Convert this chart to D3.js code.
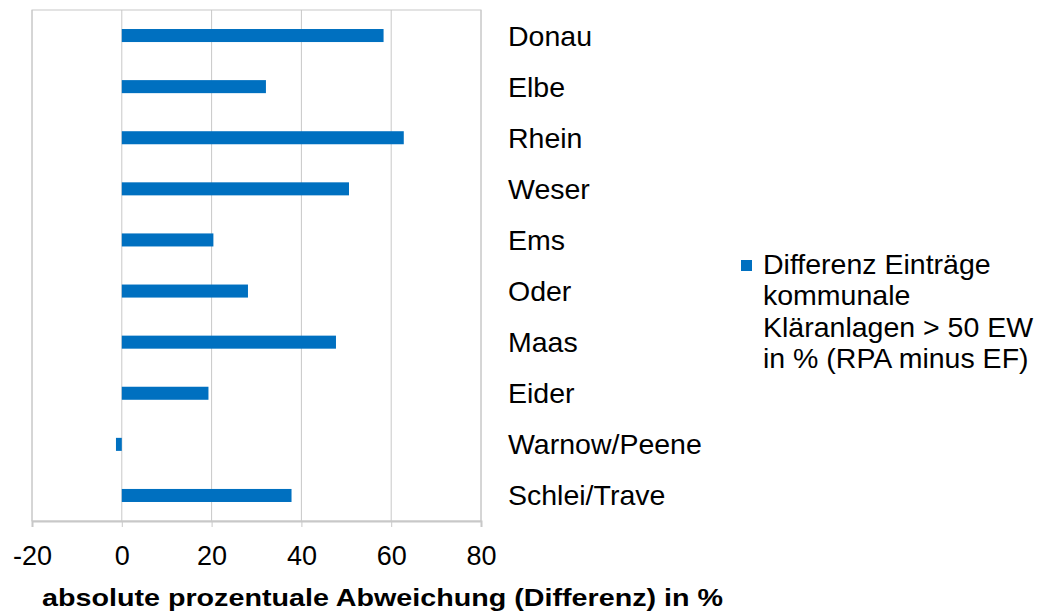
<!DOCTYPE html>
<html>
<head>
<meta charset="utf-8">
<script src="https://cdn.jsdelivr.net/npm/d3@7"></script>
<style>
  body { margin: 0; background: #fff; }
  text { font-family: "Liberation Sans", Arial, sans-serif; fill: #000; }
</style>
</head>
<body>
<div id="root"></div>
<script>
// Data
const rivers = ['Donau', 'Elbe', 'Rhein', 'Weser', 'Ems', 'Oder', 'Maas', 'Eider', 'Warnow/Peene', 'Schlei/Trave']
const differenz = [58.3, 32.1, 62.8, 50.6, 20.4, 28.1, 47.7, 19.3, -1.3, 37.8]
const xTicks = [-20, 0, 20, 40, 60, 80]
const legendLines = ['Differenz Einträge', 'kommunale', 'Kläranlagen > 50 EW', 'in % (RPA minus EF)']
const xTitle = 'absolute prozentuale Abweichung (Differenz) in %'

const W = 1044, H = 614
const plot = { left: 32, right: 481, top: 10, bottom: 521 }
const gridColor = '#c8c8c8'
const barColor = '#0070c0'

const svg = d3.select('#root').append('svg')
  .attr('width', W)
  .attr('height', H)

const x = d3.scaleLinear().domain([-20, 80]).range([plot.left, plot.right])
const y = d3.scaleBand().domain(rivers).range([plot.top, plot.bottom]).paddingInner(0.745).paddingOuter(0.372)

// vertical gridlines
svg.append('g')
  .selectAll('line')
  .data(xTicks)
  .enter().append('line')
  .attr('x1', d => x(d)).attr('x2', d => x(d))
  .attr('y1', plot.top).attr('y2', plot.bottom)
  .attr('stroke', gridColor)
  .attr('stroke-width', 1)

// plot border
svg.append('rect')
  .attr('x', plot.left).attr('y', plot.top)
  .attr('width', plot.right - plot.left).attr('height', plot.bottom - plot.top)
  .attr('fill', 'none')
  .attr('stroke', gridColor)

// bars
svg.append('g')
  .selectAll('rect')
  .data(rivers)
  .enter().append('rect')
  .attr('x', (d, i) => x(Math.min(0, differenz[i])))
  .attr('width', (d, i) => Math.abs(x(differenz[i]) - x(0)))
  .attr('y', d => y(d))
  .attr('height', y.bandwidth())
  .attr('fill', barColor)

// x axis (hyphen as minus sign, like the original)
const xAxis = svg.append('g')
  .attr('transform', `translate(0,${plot.bottom})`)
  .call(d3.axisBottom(x).tickValues(xTicks).tickSize(6).tickPadding(19).tickFormat(d => String(d)))
xAxis.select('.domain').attr('stroke', gridColor).attr('stroke-width', 2)
xAxis.selectAll('.tick line').attr('stroke', gridColor)
xAxis.selectAll('.tick text')
  .attr('font-size', 27)
  .attr('font-family', '"Liberation Sans", Arial, sans-serif')
  .attr('fill', '#000')

// category labels on the right
svg.append('g')
  .selectAll('text')
  .data(rivers)
  .enter().append('text')
  .attr('x', 508)
  .attr('y', d => y(d) + y.bandwidth() / 2)
  .attr('dy', '0.35em')
  .attr('font-size', 28.5)
  .text(d => d)

// x axis title
svg.append('text')
  .attr('x', 42)
  .attr('y', 606)
  .attr('font-size', 24)
  .attr('font-weight', 'bold')
  .attr('textLength', 681)
  .attr('lengthAdjust', 'spacingAndGlyphs')
  .text(xTitle)

// legend
const legend = svg.append('g').attr('transform', 'translate(741,260)')
legend.append('rect')
  .attr('width', 11).attr('height', 11)
  .attr('fill', barColor)
legend.selectAll('text')
  .data(legendLines)
  .enter().append('text')
  .attr('x', 22)
  .attr('y', (d, i) => 14 + i * 31.4)
  .attr('font-size', 28.5)
  .text(d => d)
</script>
</body>
</html>
